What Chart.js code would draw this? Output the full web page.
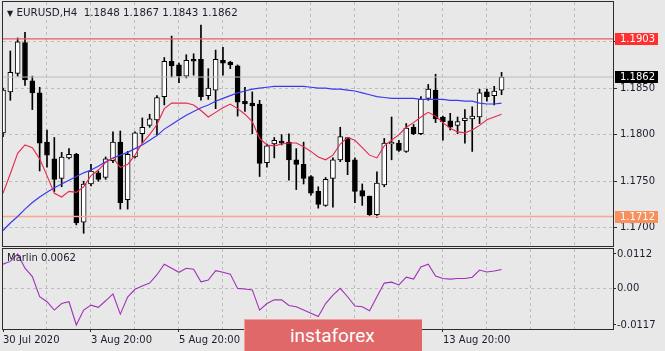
<!DOCTYPE html>
<html><head><meta charset="utf-8">
<script src="https://cdn.jsdelivr.net/npm/chart.js@4/dist/chart.umd.min.js"></script>
<style>
html,body{margin:0;padding:0;background:#e8e8e8;}
#wrap{position:relative;width:665px;height:351px;overflow:hidden;background:#e8e8e8;font-family:'DejaVu Sans',sans-serif;}
canvas{position:absolute;left:0;}
#main{top:0;}
#sub{top:247px;}
.txt{position:absolute;color:#1c1c2c;font-size:10px;white-space:pre;line-height:12px;}
#title{left:7px;top:6px;font-size:10.3px;}
#tri{font-size:8px;}
#mlabel{left:7px;top:252px;}
#wm{position:absolute;left:244px;top:319px;width:178px;height:32px;background:#e06868;color:#fff;font-family:Roboto,sans-serif;font-size:19px;line-height:31px;box-sizing:border-box;padding-left:45px;border-top:1px solid #eca0a0;border-left:1px solid #eca0a0;}
</style></head><body>
<div id="wrap">
<canvas id="main" width="665" height="248"></canvas>
<canvas id="sub" width="665" height="104"></canvas>
<div class="txt" id="title"></div>
<div class="txt" id="mlabel"></div>
<div id="wm">instaforex</div>
</div>
<script>
// ---- data (EURUSD H4, bar 0 = 30 Jul 2020 20:00) ----
const symbol = 'EURUSD,H4';
const open = [
1.1802,1.1846,1.1866,1.1899,1.1858,1.1845,1.1792,1.1774,1.1753,1.1775,
1.1779,1.1706,1.1747,1.1759,1.1754,1.1772,1.1792,1.1730,1.1776,1.1801,
1.1810,1.1816,1.1841,1.1879,1.1875,1.1863,1.1881,1.1881,1.1842,1.1848,
1.1880,1.1878,1.1874,1.1836,1.1834,1.1833,1.1770,1.1790,1.1793,1.1792,
1.1773,1.1768,1.1755,1.1739,1.1724,1.1753,1.1773,1.1797,1.1773,1.1740,
1.1734,1.1714,1.1746,1.1790,1.1791,1.1782,1.1808,1.1801,1.1839,1.1848,
1.1819,1.1815,1.1810,1.1815,1.1817,1.1819,1.1846,1.1842,1.1848];
const high = [
1.1850,1.1890,1.1904,1.1910,1.1863,1.1851,1.1805,1.1797,1.1781,1.1785,
1.1780,1.1750,1.1768,1.1761,1.1776,1.1803,1.1804,1.1782,1.1803,1.1818,
1.1822,1.1842,1.1883,1.1906,1.1877,1.1886,1.1887,1.1918,1.1871,1.1891,
1.1894,1.1879,1.1875,1.1851,1.1846,1.1837,1.1790,1.1797,1.1800,1.1801,
1.1785,1.1792,1.1756,1.1744,1.1754,1.1775,1.1808,1.1797,1.1775,1.1747,
1.1734,1.1760,1.1796,1.1819,1.1794,1.1812,1.1811,1.1841,1.1854,1.1865,
1.1820,1.1823,1.1819,1.1827,1.1830,1.1849,1.1849,1.1852,1.1867];
const low = [
1.1798,1.1837,1.1863,1.1853,1.1827,1.1761,1.1765,1.1739,1.1744,1.1774,
1.1703,1.1694,1.1745,1.1750,1.1752,1.1770,1.1720,1.1720,1.1775,1.1791,
1.1808,1.1800,1.1832,1.1862,1.1856,1.1861,1.1864,1.1837,1.1838,1.1828,
1.1864,1.1871,1.1820,1.1825,1.1801,1.1755,1.1765,1.1775,1.1789,1.1751,
1.1741,1.1747,1.1735,1.1721,1.1723,1.1722,1.1771,1.1757,1.1727,1.1724,
1.1712,1.1711,1.1744,1.1773,1.1782,1.1781,1.1800,1.1800,1.1837,1.1813,
1.1794,1.1805,1.1801,1.1791,1.1782,1.1812,1.1836,1.1832,1.1843];
const close = [
1.1848,1.1867,1.1900,1.1859,1.1845,1.1791,1.1778,1.1752,1.1776,1.1779,
1.1705,1.1747,1.1761,1.1752,1.1774,1.1792,1.1727,1.1779,1.1802,1.1808,
1.1817,1.1840,1.1879,1.1874,1.1863,1.1880,1.1879,1.1841,1.1850,1.1881,
1.1877,1.1875,1.1835,1.1833,1.1831,1.1769,1.1788,1.1794,1.1791,1.1773,
1.1768,1.1753,1.1737,1.1725,1.1752,1.1773,1.1798,1.1771,1.1739,1.1734,
1.1714,1.1748,1.1791,1.1792,1.1783,1.1807,1.1801,1.1838,1.1849,1.1817,
1.1814,1.1808,1.1814,1.1818,1.1820,1.1845,1.1841,1.1847,1.1862];
const maFast = [
1.1737,1.1758,1.1780,1.1789,1.1786,1.1774,1.1756,1.1737,1.1733,1.1739,
1.1738,1.1744,1.1756,1.1762,1.1770,1.1775,1.1765,1.1768,1.1778,1.1791,
1.1800,1.1811,1.1828,1.1834,1.1834,1.1834,1.1832,1.1826,1.1819,1.1824,
1.1829,1.1833,1.1828,1.1822,1.1814,1.1796,1.1789,1.1788,1.1790,1.1791,
1.1791,1.1787,1.1782,1.1776,1.1773,1.1778,1.1790,1.1797,1.1794,1.1786,
1.1778,1.1775,1.1788,1.1794,1.1800,1.1808,1.1813,1.1819,1.1824,1.1820,
1.1813,1.1807,1.1803,1.1802,1.1805,1.1810,1.1816,1.1819,1.1822];
const maSlow = [
1.1697,1.1705,1.1712,1.1720,1.1727,1.1733,1.1738,1.1743,1.1747,1.1751,
1.1755,1.1759,1.1762,1.1766,1.1771,1.1775,1.1778,1.1781,1.1785,1.1789,
1.1794,1.1799,1.1806,1.1811,1.1816,1.1821,1.1825,1.1829,1.1832,1.1836,
1.1839,1.1842,1.1845,1.1847,1.1849,1.1850,1.1851,1.1852,1.1852,1.1852,
1.1852,1.1852,1.1851,1.1850,1.1850,1.1849,1.1849,1.1848,1.1847,1.1845,
1.1843,1.1841,1.1840,1.1839,1.1839,1.1839,1.1839,1.1838,1.1838,1.1838,
1.1838,1.1837,1.1837,1.1836,1.1836,1.1834,1.1833,1.1833,1.1834];
const marlin = [
0.0079,0.0088,0.0112,0.0066,0.0039,-0.0026,-0.0042,-0.0069,-0.0048,-0.0042,
-0.0117,-0.0069,-0.0053,-0.0060,-0.0039,-0.0017,-0.0082,-0.0027,-0.0002,0.0009,
0.0018,0.0045,0.0079,0.0066,0.0053,0.0066,0.0063,0.0022,0.0028,0.0058,
0.0053,0.0047,0.0001,-0.0001,-0.0004,-0.0069,-0.0048,-0.0036,-0.0036,-0.0054,
-0.0058,-0.0069,-0.0079,-0.0090,-0.0048,-0.0021,0.0001,-0.0026,-0.0056,-0.0058,
-0.0071,-0.0026,0.0018,0.0021,0.0012,0.0037,0.0031,0.0070,0.0079,0.0041,
0.0033,0.0031,0.0033,0.0033,0.0037,0.0060,0.0054,0.0057,0.0062];
const resistanceLevel = 1.1903;
const supportLevel = 1.1712;
const priceTicks = [1.1700, 1.1750, 1.1800, 1.1850, 1.1900];
const priceTickLabels = ['1.1700', '1.1750', '1.1800', '1.1850'];
const timeTickBars = [0, 12, 24, 36, 48, 60];
const timeTickLabels = ['30 Jul 2020', '3 Aug 20:00', '5 Aug 20:00', '7 Aug 20:00', '11 Aug 20:00', '13 Aug 20:00'];
const marlinTicks = [0.0112, 0, -0.0117];
const marlinTickLabels = ['0.0112', '0.00', '-0.0117'];

// ---- view settings ----
const X_MIN = 0, X_MAX = 83.2;
const P_MIN = 1.16803, P_MAX = 1.19427;
const M_MIN = -0.0130, M_MAX = 0.0128;
const GRID = '#bdbdbd', TXT = '#1c1c2c', FRAME = '#2c2c2c';
const gridBars = []; for (let b = 0; b <= 78; b += 6) gridBars.push(b);
const last = close.length - 1;
const bid = close[last];

document.getElementById('title').innerHTML = '<span id="tri">▼</span> ' + symbol + '  ' +
  [open[last], high[last], low[last], close[last]].map(v => v.toFixed(4)).join(' ');
document.getElementById('mlabel').textContent = 'Marlin ' + marlin[last].toFixed(4);

Chart.defaults.font.family = "'DejaVu Sans', sans-serif";
Chart.defaults.font.size = 10;
Chart.defaults.color = TXT;

const idx = close.map((_, i) => i);
const frame = {
  id: 'frame',
  afterDraw(chart) {
    const {ctx, chartArea: a} = chart;
    ctx.save();
    ctx.strokeStyle = FRAME; ctx.lineWidth = 1;
    ctx.strokeRect(Math.round(a.left) - 0.5, Math.round(a.top) - 0.5, Math.round(a.right - a.left) + 1, Math.round(a.bottom - a.top) + 1);
    ctx.restore();
  }
};
const tags = {
  id: 'tags',
  afterDraw(chart) {
    const {ctx} = chart; const ys = chart.scales.y; const a = chart.chartArea;
    const list = [[resistanceLevel, '#ff3030'], [bid, '#000000'], [supportLevel, '#f8905c']];
    ctx.save();
    ctx.font = "10px 'DejaVu Sans'"; ctx.textBaseline = 'middle'; ctx.textAlign = 'left';
    for (const [v, bg] of list) {
      const py = Math.round(ys.getPixelForValue(v));
      ctx.fillStyle = bg; ctx.fillRect(a.right + 2, py - 6, 43, 12);
      ctx.fillStyle = '#ffffff'; ctx.fillText(v.toFixed(4), a.right + 7, py + 0.5);
    }
    ctx.restore();
  }
};
function levelLine(v, color, w) {
  return {type: 'line', data: [{x: X_MIN, y: v}, {x: X_MAX, y: v}], borderColor: color, borderWidth: w, pointRadius: 0, order: 3};
}
const xCommon = {
  type: 'linear', min: X_MIN, max: X_MAX, offset: false,
  afterBuildTicks(s) { s.ticks = gridBars.map(v => ({value: v})); },
  border: {display: false, dash: [3, 3]}
};

new Chart(document.getElementById('main'), {
  type: 'bar',
  data: {
    datasets: [
      {type: 'bar', data: idx.map(i => ({x: i, y: [low[i], high[i]]})), backgroundColor: '#000', barThickness: 1, grouped: false, order: 6},
      {type: 'bar', data: idx.map(i => ({x: i, y: [open[i], close[i]]})),
        backgroundColor: idx.map(i => close[i] >= open[i] ? '#ffffff' : '#000000'),
        borderColor: '#000', borderWidth: 1, borderSkipped: false, barThickness: 5, grouped: false, order: 5},
      levelLine(resistanceLevel, '#ec5c5c', 1.4),
      levelLine(supportLevel, '#f6a88c', 1.6),
      levelLine(bid, '#bdbdbd', 1),
      {type: 'line', data: idx.map(i => ({x: i, y: maSlow[i]})), borderColor: '#3a3af0', borderWidth: 1.2, pointRadius: 0, order: 2},
      {type: 'line', data: idx.map(i => ({x: i, y: maFast[i]})), borderColor: '#e8284c', borderWidth: 1.1, pointRadius: 0, order: 1}
    ]
  },
  options: {
    responsive: false, animation: false, devicePixelRatio: 1,
    layout: {padding: {left: 3, top: 2, right: 0, bottom: 2}},
    plugins: {legend: {display: false}, tooltip: {enabled: false}},
    scales: {
      x: Object.assign({}, xCommon, {
        ticks: {display: false},
        grid: {offset: false, drawTicks: false, color: c => (c.tick && c.tick.value === 0) ? 'rgba(0,0,0,0)' : GRID},
        afterFit(s) { s.height = 0; s.paddingLeft = 0; s.paddingRight = 0; }
      }),
      y: {
        type: 'linear', position: 'right', min: P_MIN, max: P_MAX,
        afterBuildTicks(s) { s.ticks = priceTicks.map(v => ({value: v})); },
        ticks: {callback: (v, i) => priceTickLabels[i] || '', padding: 3, color: TXT},
        grid: {color: GRID, tickLength: 4, tickColor: FRAME, tickBorderDash: []},
        border: {display: false, dash: [3, 3]},
        afterFit(s) { s.width = 52; s.paddingTop = 0; s.paddingBottom = 0; }
      }
    }
  },
  plugins: [frame, tags]
});

new Chart(document.getElementById('sub'), {
  type: 'line',
  data: {datasets: [{data: idx.map(i => ({x: i, y: marlin[i]})), borderColor: '#a030b8', borderWidth: 1.1, pointRadius: 0}]},
  options: {
    responsive: false, animation: false, devicePixelRatio: 1,
    layout: {padding: {left: 3, top: 2, right: 0, bottom: 0}},
    plugins: {legend: {display: false}, tooltip: {enabled: false}},
    scales: {
      x: Object.assign({}, xCommon, {
        ticks: {autoSkip: false, maxRotation: 0, align: 'start', padding: 2, color: TXT,
          callback: v => { const k = timeTickBars.indexOf(v); return k >= 0 ? timeTickLabels[k] : ''; }},
        grid: {offset: false, tickLength: 3, tickBorderDash: [],
          color: c => (c.tick && c.tick.value === 0) ? 'rgba(0,0,0,0)' : GRID,
          tickColor: c => (c.tick && timeTickBars.includes(c.tick.value)) ? FRAME : 'rgba(0,0,0,0)'},
        afterFit(s) { s.height = 22; s.paddingLeft = 0; s.paddingRight = 0; }
      }),
      y: {
        type: 'linear', position: 'right', min: M_MIN, max: M_MAX,
        afterBuildTicks(s) { s.ticks = marlinTicks.map(v => ({value: v})); },
        ticks: {callback: (v, i) => marlinTickLabels[i], padding: 1, color: TXT},
        grid: {tickLength: 3, tickColor: FRAME, tickBorderDash: [], color: c => (c.tick && c.tick.value === 0) ? GRID : 'rgba(0,0,0,0)'},
        border: {display: false, dash: [3, 3]},
        afterFit(s) { s.width = 52; s.paddingTop = 0; s.paddingBottom = 0; }
      }
    }
  },
  plugins: [frame]
});
</script>
</body></html>
